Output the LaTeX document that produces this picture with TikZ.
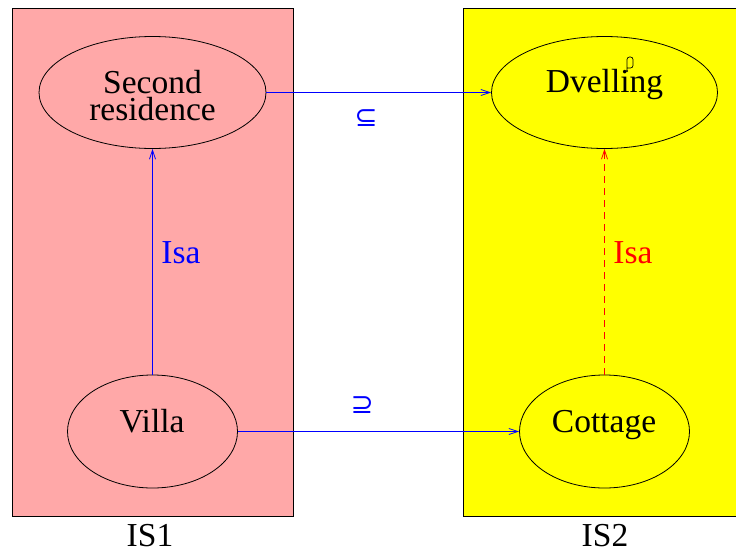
\documentclass[tikz,border=0pt]{standalone}
\usepackage{fontspec}
\setmainfont{Liberation Serif}
\newfontfamily\symfont{DejaVu Sans}
\usetikzlibrary{shapes.geometric,arrows.meta}
\definecolor{pinkbg}{RGB}{255,168,168}
\definecolor{yellowbg}{RGB}{255,255,0}
\tikzset{
  entity/.style={draw=black, line width=0.8pt, ellipse, inner sep=0pt},
  lbl/.style={font=\fontsize{33.5}{38}\selectfont, anchor=base, inner sep=0pt},
  rel/.style={draw=blue, line width=0.9pt, -{Straight Barb[length=9pt,width=6pt,line width=0.8pt]}},
  isared/.style={draw=red, line width=0.9pt, dash pattern=on 7pt off 5pt, -{Straight Barb[length=9pt,width=6pt,line width=0.8pt]}},
  box/.style={draw=black, line width=0.8pt},
  setop/.style={text=blue, inner sep=0pt, anchor=center, font=\symfont}
}
\begin{document}
\begin{tikzpicture}[x=1pt,y=-1pt]
\useasboundingbox (0,0) rectangle (736,552);
\fill[white] (0,0) rectangle (736,552);
% panels
\draw[box, fill=pinkbg] (12,8) rectangle (293,516);
\draw[box, fill=yellowbg] (463,8) rectangle (745,516);
% entities
\node[entity, minimum width=227pt, minimum height=112pt] (sr) at (152.5,92.5) {};
\node[entity, minimum width=170pt, minimum height=113pt] (villa) at (152.5,431.5) {};
\node[entity, minimum width=226pt, minimum height=112pt] (dv) at (604.5,92.5) {};
\node[entity, minimum width=170pt, minimum height=113pt] (cot) at (604.5,431.5) {};
% texts
\node[lbl] (t1) at (152.5,93) {Second};
\node[lbl] (t2) at (152.5,120) {residence};
\node[lbl] (t3) at (152,432) {Villa};
\node[lbl] (t4) at (604.5,92) {Dvelling};
\node[lbl] (t5) at (604,432) {Cottage};
\node[lbl] (is1) at (150,546) {IS1};
\node[lbl] (is2) at (605,546) {IS2};
% glitch mark above the g
\draw[line width=0.7pt, rounded corners=2.5pt] (627,70) -- (627,57) -- (633,57) -- (633,68) -- (627,68);
\fill (627,71) circle (1.1pt);
% connectors
\draw[rel] (sr.east) -- (dv.west);
\draw[rel] (villa.east) -- (cot.west);
\draw[rel] (villa.north) -- (sr.south);
\draw[isared] (cot.north) -- (dv.south);
% connector labels
\node[lbl, text=blue] (isa1) at (181,263) {Isa};
\node[lbl, text=red] (isa2) at (633,263) {Isa};
\node[setop] (sub) at (366,118) {\resizebox{23pt}{!}{⊆}};
\node[setop] (sup) at (362,405) {\resizebox{23pt}{!}{⊇}};
\end{tikzpicture}
\end{document}
